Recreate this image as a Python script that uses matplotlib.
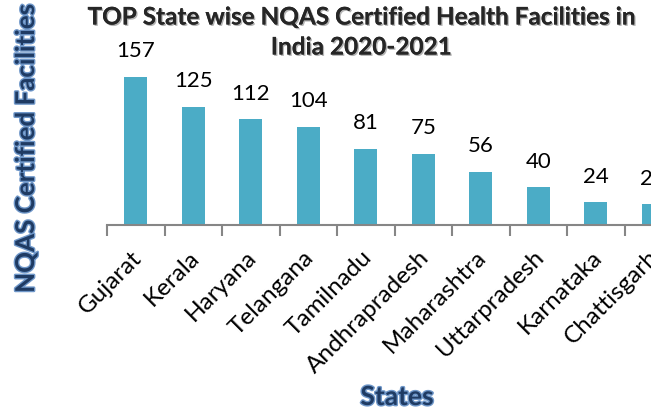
import matplotlib.pyplot as plt
import matplotlib.patheffects as pe
import matplotlib.transforms as mtransforms

states = ["Gujarat", "Kerala", "Haryana", "Telangana", "Tamilnadu",
          "Andhrapradesh", "Maharashtra", "Uttarpradesh", "Karnataka", "Chattisgarh"]
facilities = [157, 125, 112, 104, 81, 75, 56, 40, 24, 22]

plt.rcParams['font.family'] = ['Lato', 'DejaVu Sans']

fig = plt.figure(figsize=(6.51, 4.14), dpi=100)
# plot area runs past the right edge, like the cropped original
ax = fig.add_axes([107 / 651, 188 / 414, 575 / 651, 170 / 414])

x = list(range(len(states)))
ax.bar(x, facilities, width=0.4, color="#4BACC6")
for i, v in zip(x, facilities):
    ax.annotate(str(v), (i, v), xytext=(0, 12), textcoords="offset points",
                ha="center", va="bottom", fontsize=16, color="black")

ax.set_xlim(-0.5, len(states) - 0.5)
ax.set_ylim(0, 180)
ax.set_yticks([])
for s in ["top", "right", "left"]:
    ax.spines[s].set_visible(False)
ax.spines["bottom"].set_color("#868686")
ax.spines["bottom"].set_linewidth(1.5)

ax.set_xticks(x)
ax.set_xticklabels(states, rotation=45, ha="right", rotation_mode="anchor", fontsize=17.5)
ax.tick_params(axis="x", which="major", length=0, pad=15)
ax.set_xticks([i - 0.5 for i in range(len(states) + 1)], minor=True)
ax.tick_params(axis="x", which="minor", length=8, width=1.5, color="#868686")
shift = mtransforms.ScaledTranslation(-5 / 100, 0, fig.dpi_scale_trans)
for lbl in ax.get_xticklabels():
    lbl.set_transform(lbl.get_transform() + shift)

title_fx = [pe.withSimplePatchShadow(offset=(1, -1), shadow_rgbFace="#a0a0a0", alpha=0.8), pe.Normal()]
fig.text(361 / 651, 1 - 18 / 414, "TOP State wise NQAS Certified Health Facilities in",
         ha="center", va="center", fontsize=17.5, fontweight="bold", color="#262626",
         path_effects=title_fx)
fig.text(361 / 651, 1 - 48 / 414, "India 2020-2021",
         ha="center", va="center", fontsize=17.5, fontweight="bold", color="#262626",
         path_effects=title_fx)

label_fx = [pe.withStroke(linewidth=2, foreground="#6f97c9")]
fig.text(26 / 651, 1 - 149 / 414, "NQAS Certified Facilities", rotation=90,
         ha="center", va="center", fontsize=18.7, fontweight="bold", color="#1F3B63",
         path_effects=label_fx)
fig.text(397 / 651, 1 - 398 / 414, "States", ha="center", va="center",
         fontsize=19, fontweight="bold", color="#1F3B63", path_effects=label_fx)

fig.savefig("out.png", dpi=100)
